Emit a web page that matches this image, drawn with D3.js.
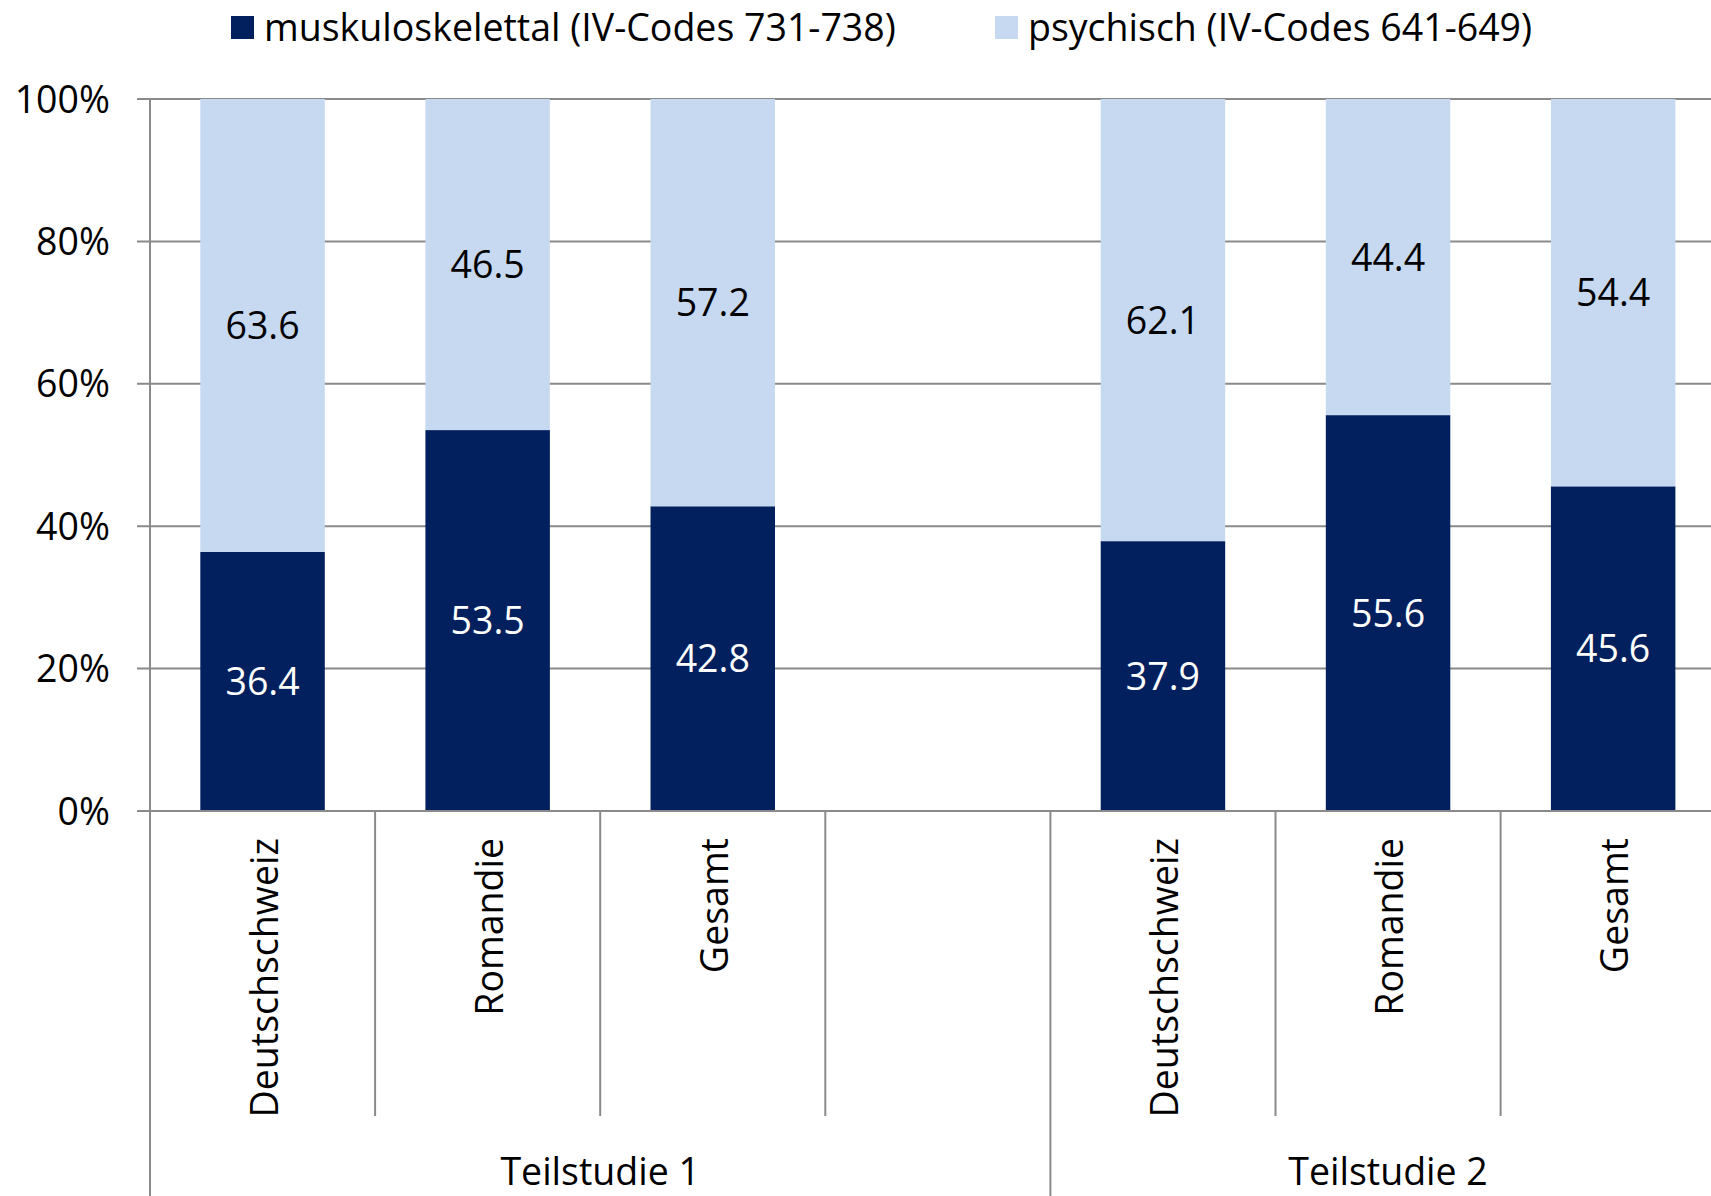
<!DOCTYPE html>
<html>
<head>
<meta charset="utf-8">
<script src="https://cdn.jsdelivr.net/npm/d3@7"></script>
<style>
  html, body { margin: 0; padding: 0; background: #fff; overflow: hidden; }
  svg text { font-family: 'Open Sans', sans-serif; fill: #000; }
</style>
</head>
<body>
<div id="chart"></div>
<script>
// slots on the x axis (one empty slot between the two studies)
const slots = ['t1-ds', 't1-ro', 't1-ge', 'gap', 't2-ds', 't2-ro', 't2-ge'];
const slotLabels = ['Deutschschweiz', 'Romandie', 'Gesamt', '', 'Deutschschweiz', 'Romandie', 'Gesamt'];
const groups = ['Teilstudie 1', 'Teilstudie 2'];
const groupSlots = [['t1-ds', 't1-ro', 't1-ge', 'gap'], ['t2-ds', 't2-ro', 't2-ge']];

const seriesNames = ['muskuloskelettal (IV-Codes 731-738)', 'psychisch (IV-Codes 641-649)'];
const muskulo = [36.4, 53.5, 42.8, null, 37.9, 55.6, 45.6];
const psychisch = [63.6, 46.5, 57.2, null, 62.1, 44.4, 54.4];
const yTicks = [0, 20, 40, 60, 80, 100];

const colors = ['#03205e', '#c6d9f1'];
const labelColors = ['#fff', '#000'];

const W = 1711, H = 1196;
const fontSize = '37.5px';
const margin = { top: 99, left: 150 };
const plotW = 7 * 225.1;

const svg = d3.select('#chart').append('svg')
  .attr('width', W)
  .attr('height', H);

const x = d3.scaleBand().domain(slots).range([margin.left, margin.left + plotW]);
const y = d3.scaleLinear().domain([0, 100]).range([811, margin.top]);
const barW = x.bandwidth() * 0.553;

// gridlines
svg.append('g')
  .selectAll('line')
  .data(yTicks)
  .join('line')
  .attr('x1', margin.left - 13)
  .attr('x2', W)
  .attr('y1', (d) => y(d))
  .attr('y2', (d) => y(d))
  .attr('stroke', '#8a8a8a')
  .attr('stroke-width', 2);

// stacked bars
const rows = slots.map((s, i) => ({ key: s, vals: [muskulo[i], psychisch[i]] }))
  .filter((r) => r.vals[0] !== null);

rows.forEach((r) => {
  let acc = 0;
  r.vals.forEach((v, j) => {
    const y0 = acc, y1 = acc + v;
    acc = y1;
    svg.append('rect')
      .attr('x', x(r.key) + (x.bandwidth() - barW) / 2)
      .attr('y', y(y1))
      .attr('width', barW)
      .attr('height', y(y0) - y(y1))
      .attr('fill', colors[j]);
    svg.append('text')
      .attr('x', x(r.key) + x.bandwidth() / 2)
      .attr('y', y((y0 + y1) / 2))
      .attr('dy', '0.36em')
      .attr('text-anchor', 'middle')
      .style('font-size', fontSize)
      .style('fill', labelColors[j])
      .text(v.toFixed(1));
  });
});

// y axis line + labels
svg.append('line')
  .attr('x1', margin.left).attr('x2', margin.left)
  .attr('y1', margin.top).attr('y2', H)
  .attr('stroke', '#8a8a8a').attr('stroke-width', 2);

svg.append('g')
  .selectAll('text')
  .data(yTicks)
  .join('text')
  .attr('x', margin.left - 40)
  .attr('y', (d) => y(d))
  .attr('dy', '0.36em')
  .attr('text-anchor', 'end')
  .style('font-size', fontSize)
  .text((d) => `${d}%`);

// x axis: category separators (group edges run to the bottom)
const boundaries = slots.map((s) => x(s)).concat([x(slots[slots.length - 1]) + x.bandwidth()]);
svg.append('g')
  .selectAll('line')
  .data(boundaries)
  .join('line')
  .attr('x1', (d) => d).attr('x2', (d) => d)
  .attr('y1', 811)
  .attr('y2', (d, i) => (i === 0 || i === 4 || i === 7 ? H : 1116))
  .attr('stroke', '#8a8a8a').attr('stroke-width', 2);

svg.append('g')
  .selectAll('text')
  .data(slots.map((s, i) => ({ s, label: slotLabels[i] })).filter((d) => d.label))
  .join('text')
  .attr('transform', (d) => `translate(${x(d.s) + x.bandwidth() / 2 + 15},838) rotate(-90)`)
  .attr('text-anchor', 'end')
  .style('font-size', fontSize)
  .text((d) => d.label);

svg.append('g')
  .selectAll('text')
  .data(groups)
  .join('text')
  .attr('x', (d, i) => {
    const g = groupSlots[i];
    return (x(g[0]) + x(g[g.length - 1]) + x.bandwidth()) / 2;
  })
  .attr('y', 1185)
  .attr('text-anchor', 'middle')
  .style('font-size', fontSize)
  .text((d) => d);

// x axis baseline
svg.append('line')
  .attr('x1', margin.left - 13).attr('x2', W)
  .attr('y1', 811).attr('y2', 811)
  .attr('stroke', '#8a8a8a').attr('stroke-width', 2);

// legend
const legendX = [231, 995];
const legend = svg.append('g')
  .selectAll('g')
  .data(seriesNames)
  .join('g')
  .attr('transform', (d, i) => `translate(${legendX[i]},0)`);
legend.append('rect')
  .attr('x', 0).attr('y', 16)
  .attr('width', 23).attr('height', 23)
  .attr('fill', (d, i) => colors[i]);
legend.append('text')
  .attr('x', 33).attr('y', 41)
  .style('font-size', fontSize)
  .text((d) => d);
</script>
</body>
</html>
